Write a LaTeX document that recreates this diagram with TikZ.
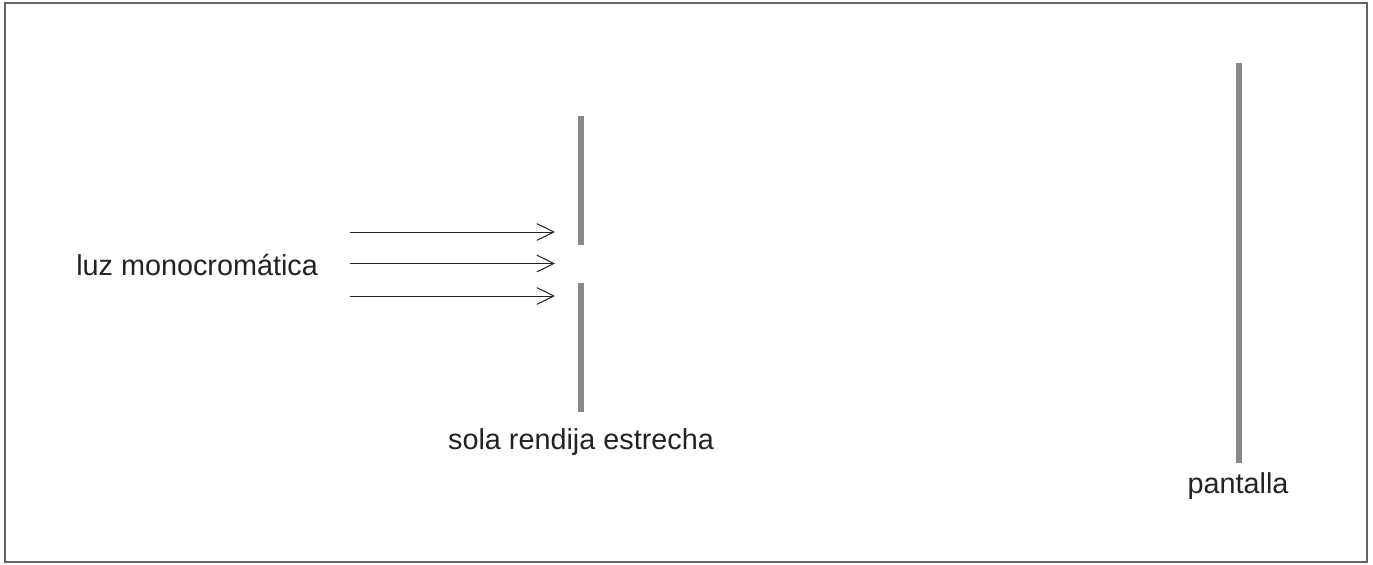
\documentclass[tikz,border=0pt]{standalone}
\usepackage{fontspec}
\setmainfont{Liberation Sans}
\usetikzlibrary{arrows.meta}
\definecolor{barcol}{RGB}{136,136,136}
\definecolor{inkcol}{RGB}{34,34,34}
\def\lblsize{\fontsize{21.6}{26}\selectfont}

\begin{document}
\begin{tikzpicture}[x=0.75pt,y=0.75pt,yscale=-1,xscale=1,
	barra/.style={draw=barcol, line width=4.2pt},
	rayo/.style={draw=inkcol, line width=0.75pt, -{Straight Barb[length=12.75pt,width=12.5pt,line width=0.75pt]}},
	etiqueta/.style={inner sep=0pt, text=inkcol, font=\lblsize}]
		\useasboundingbox (0,0) rectangle (1373,564);
		\draw [color={rgb, 255:red, 100; green, 100; blue, 100 }, line width=1.5pt] (5,3) rectangle (1367,562) ;
		% rendija
		\coordinate (r1a) at (581,116);
		\coordinate (r1b) at (581,245);
		\coordinate (r2a) at (581,283);
		\coordinate (r2b) at (581,412);
		\draw [barra] (r1a) -- (r1b) ;
		\draw [barra] (r2a) -- (r2b) ;
		% pantalla
		\coordinate (p1) at (1239,63);
		\coordinate (p2) at (1239,463);
		\draw [barra] (p1) -- (p2) ;
		% rayos de luz
		\foreach \i/\y in {1/232,2/263.5,3/296} {
			\coordinate (ra\i) at (350,\y);
			\coordinate (rb\i) at (555,\y);
			\draw [rayo] (ra\i) -- (rb\i) ;
		}
		\node [etiqueta, anchor=base west] (luz) at (76,275) {luz monocromática};
		\node [etiqueta, anchor=base] (rendija) at (581,449) {sola rendija estrecha};
		\node [etiqueta, anchor=base] (pantalla) at (1238,493) {pantalla};
\end{tikzpicture}
\end{document}
